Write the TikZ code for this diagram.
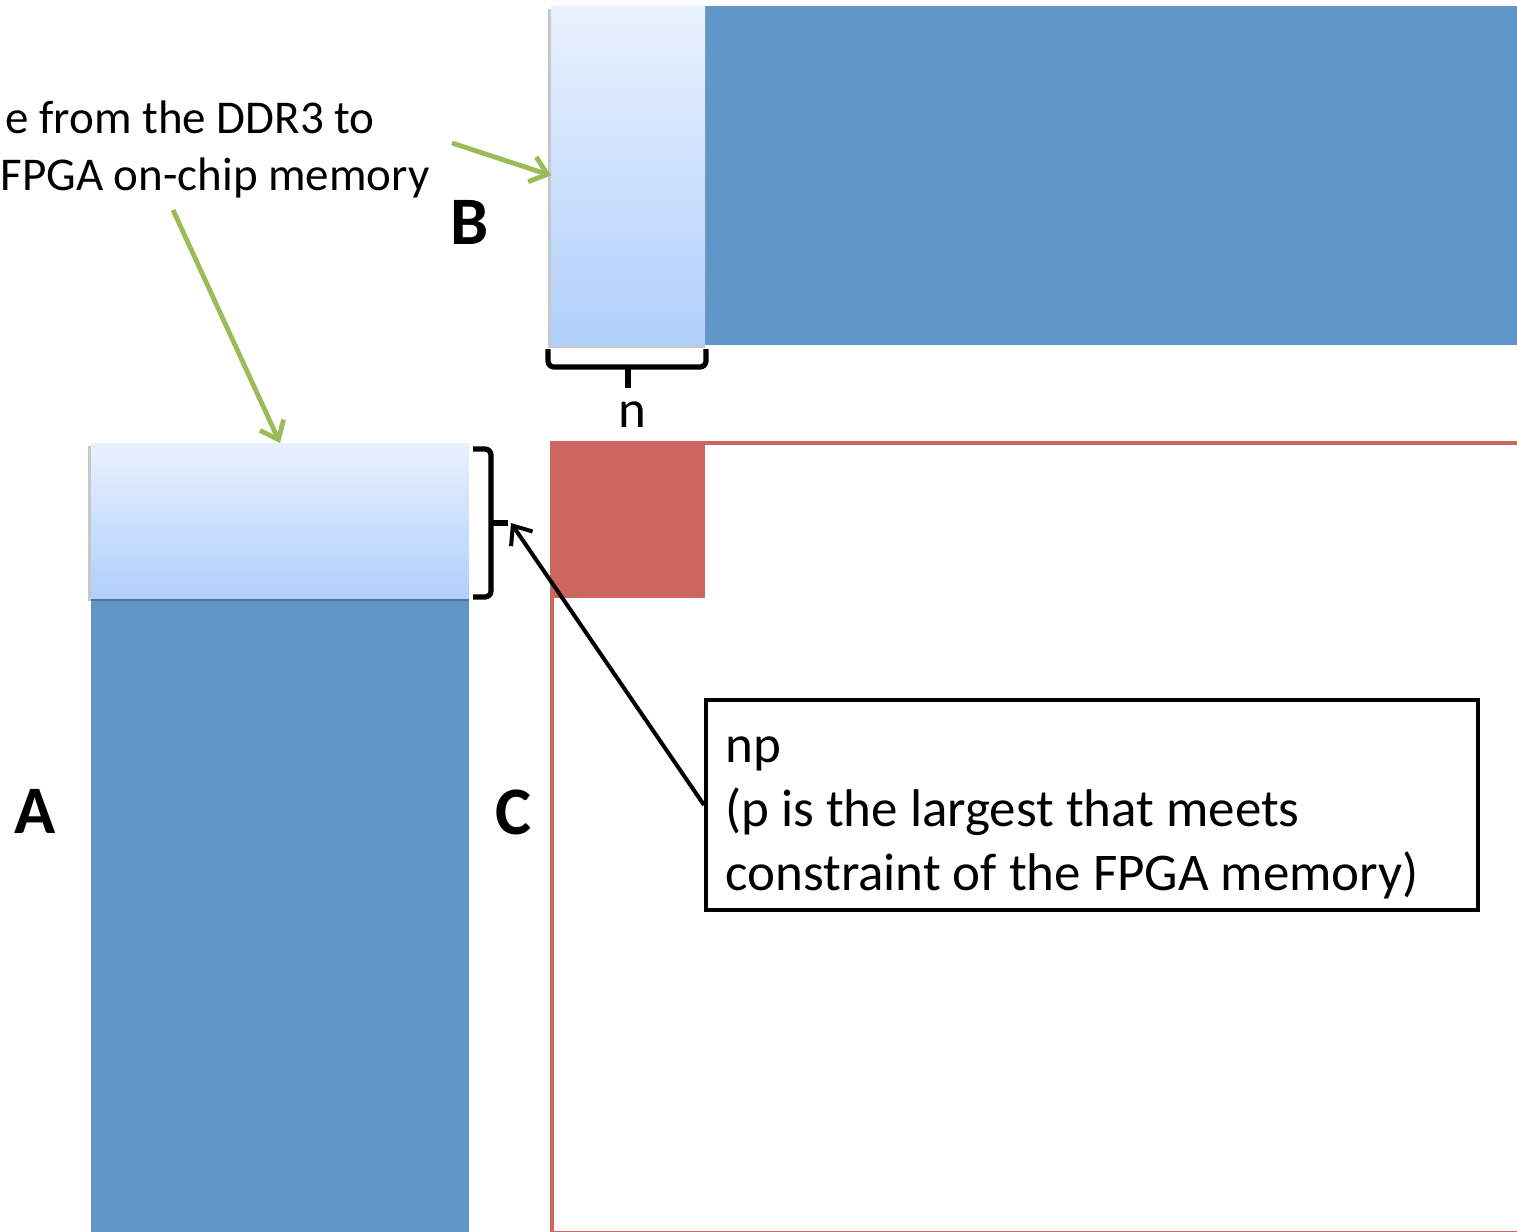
\documentclass[tikz,border=0pt]{standalone}
\usepackage{fontspec}
\setmainfont{Carlito}
\usetikzlibrary{arrows.meta}

\definecolor{blockblue}{RGB}{96,150,200}
\definecolor{tiletop}{RGB}{233,241,254}
\definecolor{tilebottom}{RGB}{176,207,251}
\definecolor{cred}{RGB}{205,102,95}
\definecolor{feedgreen}{RGB}{155,187,89}

\tikzset{
  slab/.style={rectangle, inner sep=0pt, outer sep=0pt, fill=blockblue, anchor=north west},
  tile/.style={rectangle, inner sep=0pt, outer sep=0pt, top color=tiletop, bottom color=tilebottom, anchor=north west},
  tileshadow/.style={fill=black, opacity=0.22},
  memtext/.style={font=\fontsize{23.5}{28.5}\selectfont, inner sep=0pt},
  notetext/.style={font=\fontsize{26.5}{32}\selectfont, inner sep=0pt},
  biglabel/.style={font=\fontsize{34}{40}\selectfont\bfseries, inner sep=0pt},
  feed/.style={draw=feedgreen, line width=2.4pt, -{Straight Barb[length=8pt,width=13pt]}},
  pointer/.style={draw=black, line width=2pt, -{Straight Barb[length=8pt,width=13pt]}},
  bracket/.style={draw=black, line width=2.6pt, rounded corners=3pt},
}

\begin{document}
\begin{tikzpicture}[x=0.5pt, y=-0.5pt]
\useasboundingbox (0,0) rectangle (1517,1232);

% matrix B: loaded column strip and the rest of the matrix
\node[slab, minimum width=406pt, minimum height=169.5pt] (Bslab) at (705,6) {};
\fill[tileshadow] (548,9) rectangle (705,348);
\node[tile, minimum width=77pt, minimum height=169.5pt] (Btile) at (551,6) {};

% matrix A: loaded row strip and the rest of the matrix
\node[slab, minimum width=189pt, minimum height=317pt] (Aslab) at (91,598) {};
\fill[tileshadow] (88,446) rectangle (469,601);
\node[tile, minimum width=189pt, minimum height=77.5pt] (Atile) at (91,443) {};

% matrix C: outline and the computed block
\draw[cred, line width=2pt] (552,443) rectangle (1540,1233);
\node[rectangle, fill=cred, inner sep=0pt, outer sep=0pt, anchor=north west,
      minimum width=77.5pt, minimum height=78.5pt] (Cblock) at (550,441) {};

% matrix names
\node[biglabel] (labA) at (35,811) {A};
\node[biglabel] (labB) at (470,222) {B};
\node[biglabel] (labC) at (513,812) {C};

% caption about the transfer
\node[memtext, anchor=base east] (memA) at (375,133) {e from the DDR3 to};
\node[memtext, anchor=base east] (memB) at (430,190) {FPGA on-chip memory};
\coordinate (feedB) at (452,143);
\coordinate (feedA) at (173,210);
\draw[feed] (feedB) -- (Btile.west);
\draw[feed] (feedA) -- (Atile.north);

% width bracket under the B strip
\draw[bracket] (548,349) -- (548,367) -- (706,367) -- (706,349);
\draw[bracket] (628,367) -- (628,388);
\node[notetext, anchor=base] (nlabel) at (632,427) {n};

% height bracket beside the A strip
\draw[bracket] (473,449) -- (491,449) -- (491,597) -- (473,597);
\draw[bracket] (491,523) -- (508,523);
\coordinate (rtip) at (511,523);

% note box
\node[draw=black, line width=2pt, minimum width=386pt, minimum height=105pt,
      inner sep=0pt] (callout) at (1092,805) {};
\node[notetext, anchor=base west, align=left] (note) at (725,890)
  {np\\(p is the largest that meets\\constraint of the FPGA memory)};
\draw[pointer] (callout.west) -- (rtip);
\end{tikzpicture}
\end{document}
